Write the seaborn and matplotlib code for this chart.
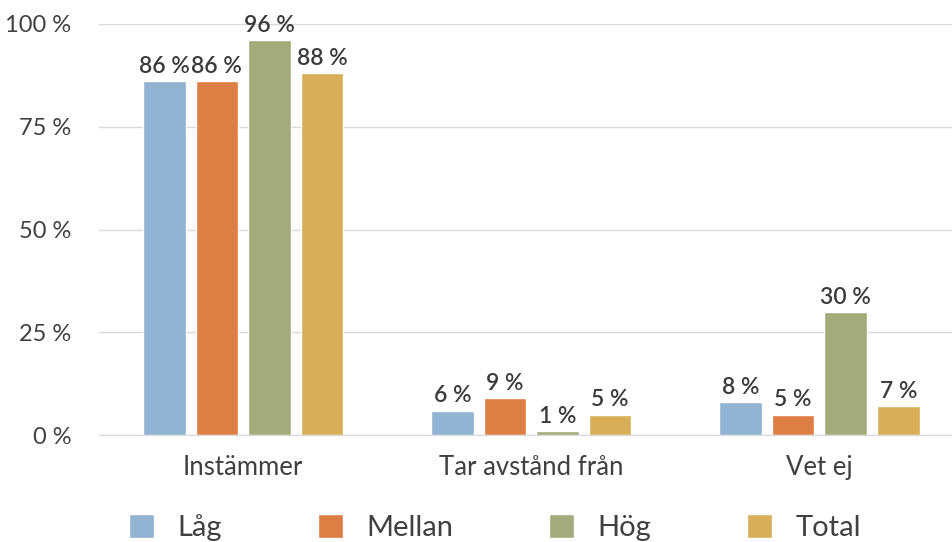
import pandas as pd
import matplotlib.pyplot as plt
import seaborn as sns

# Data
categories = ["Instämmer", "Tar avstånd från", "Vet ej"]
groups = ["Låg", "Mellan", "Hög", "Total"]
lag = [86, 6, 8]
mellan = [86, 9, 5]
hog = [96, 1, 30]
total = [88, 5, 7]
colors = ["#93b3d3", "#dd7e44", "#a3aa7c", "#d8af58"]

rows = []
for g, vals in zip(groups, [lag, mellan, hog, total]):
    for c, v in zip(categories, vals):
        rows.append({"kategori": c, "grupp": g, "andel": v})
df = pd.DataFrame(rows)

sns.set_style("white")
plt.rcParams["font.family"] = ["Lato", "DejaVu Sans"]

fig = plt.figure(figsize=(9.53, 5.42), dpi=100)
ax = fig.add_axes([0.104, 0.197, 0.907, 0.759])

sns.barplot(data=df, x="kategori", y="andel", hue="grupp", order=categories,
            hue_order=groups, palette=colors, width=0.73, gap=0.19,
            saturation=1, ax=ax, legend=True)

for cont in ax.containers:
    ax.bar_label(cont, labels=[f"{v:.0f} %" for v in cont.datavalues],
                 padding=3, fontsize=16.5, color="#3a3a3a", fontweight="semibold")

ax.set_ylim(0, 100)
ax.set_xlim(-0.5, 2.5)
ax.set_yticks([0, 25, 50, 75, 100])
ax.set_yticklabels([f"{t} %" for t in [0, 25, 50, 75, 100]])
ax.yaxis.grid(True, color="#d9d9d9", linewidth=1)
ax.set_axisbelow(True)
for s in ["top", "right", "left"]:
    ax.spines[s].set_visible(False)
ax.spines["bottom"].set_color("#d9d9d9")
ax.tick_params(axis="both", length=0, labelcolor="#404040")
ax.tick_params(axis="x", pad=14, labelsize=18.5)
ax.tick_params(axis="y", pad=20, labelsize=17)
ax.set_xlabel("")
ax.set_ylabel("")

handles, labels = ax.get_legend_handles_labels()
ax.legend(handles, labels, loc="lower center", bbox_to_anchor=(0.458, -0.307),
          ncol=4, frameon=False, fontsize=21, labelcolor="#404040",
          handlelength=0.85, handleheight=0.85, columnspacing=3.3, handletextpad=0.8,
          borderpad=0.2)

plt.savefig("out.png", dpi=100)
